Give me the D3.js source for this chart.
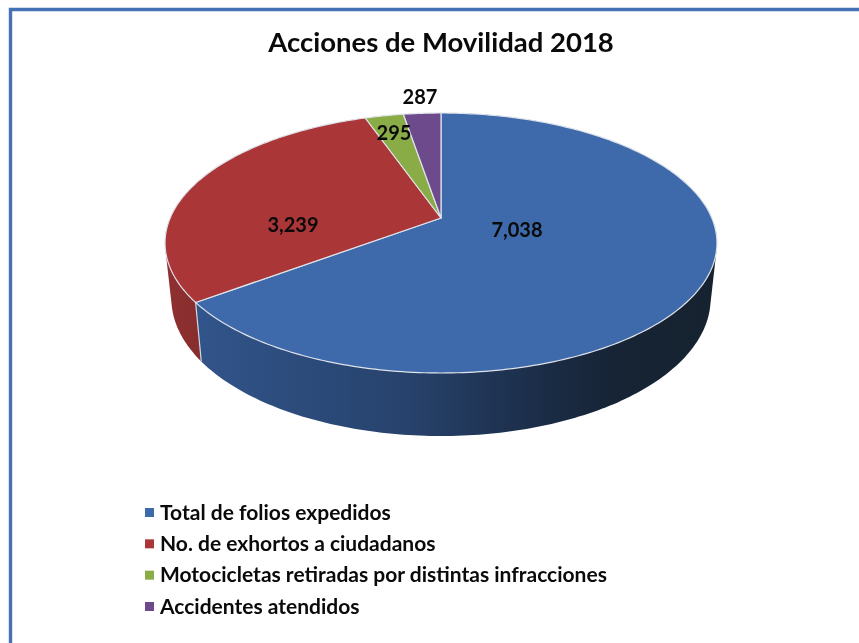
<!DOCTYPE html>
<html>
<head>
  <title>Acciones de Movilidad 2018</title>
  <script src="https://d3js.org/d3.v7.min.js"></script>
  <style>
    html, body { margin: 0; padding: 0; background: #fff; overflow: hidden; }
    svg { display: block; filter: blur(0.45px); }
    text { font-family: Lato, "Open Sans", sans-serif; font-weight: 700; fill: #0a0a0a; }
  </style>
</head>
<body>
  <svg id="chart" width="859" height="643"></svg>

  <script>
    const chartTitle = "Acciones de Movilidad 2018";
    const categories = [
      "Total de folios expedidos",
      "No. de exhortos a ciudadanos",
      "Motocicletas retiradas por distintas infracciones",
      "Accidentes atendidos"
    ];
    const values = [7038, 3239, 295, 287];
    const colors = ["#3e6aac", "#aa3637", "#89ac46", "#6c4a8c"];

    // where each value label sits on the page
    const labelX = [517, 293, 394, 420];
    const labelY = [230, 225, 133, 97];

    const svg = d3.select("#chart");

    // Frame, runs off the right and bottom of the picture
    svg.append("path")
      .attr("d", "M10.5,650V9.5H870")
      .attr("fill", "none")
      .attr("stroke", "#4472b4")
      .attr("stroke-width", 3.4);

    svg.append("text")
      .attr("x", 441)
      .attr("y", 52)
      .attr("text-anchor", "middle")
      .attr("font-size", 27.5)
      .text(chartTitle);

    // Perspective view of the pie: the circle centre is not the ellipse centre
    const centerX = 441;
    const tilt = 0.1923;
    const radiusX = 270.8;
    const radiusY = -83.27;
    const centerY = 218;
    // the bottom rim is a bit narrower, and the wall gets taller towards the viewer
    const rimScale = 0.977;
    const frontY = 373;
    const frontDepth = 63;
    const depthSlope = 0.057;

    function project(angle) {
      const u = Math.sin(angle), v = Math.cos(angle);
      const w = 1 + tilt * v;
      return [centerX + radiusX * u / w, (radiusY * v + centerY) / w];
    }
    function projectRim(angle) {
      const p = project(angle);
      return [
        centerX + rimScale * (p[0] - centerX),
        p[1] + frontDepth + depthSlope * (p[1] - frontY)
      ];
    }
    function sweep(a0, a1) {
      const n = Math.max(2, Math.ceil(Math.abs(a1 - a0) * 60));
      return d3.range(n + 1).map(i => a0 + (a1 - a0) * i / n);
    }

    const pie = d3.pie().sort(null)(values);
    const line = d3.line();

    const defs = svg.append("defs");

    const blueSide = defs.append("linearGradient")
      .attr("id", "side-0")
      .attr("gradientUnits", "userSpaceOnUse")
      .attr("x1", 200).attr("x2", 717).attr("y1", 0).attr("y2", 0);
    [[0, "#31548a"], [0.4, "#27426c"], [0.68, "#1a2b44"], [0.8, "#162435"], [1, "#16222f"]]
      .forEach(s => blueSide.append("stop").attr("offset", s[0]).attr("stop-color", s[1]));

    const redSide = defs.append("linearGradient")
      .attr("id", "side-1")
      .attr("gradientUnits", "userSpaceOnUse")
      .attr("x1", 165).attr("x2", 205).attr("y1", 0).attr("y2", 0);
    [[0, "#8f3031"], [1, "#872d2d"]]
      .forEach(s => redSide.append("stop").attr("offset", s[0]).attr("stop-color", s[1]));

    // Side walls: only the first two slices reach the front of the pie.
    // Hull of both rims gives the straight silhouette at the left and right ends.
    svg.append("g").selectAll("path")
      .data(pie.slice(0, 2).reverse())
      .join("path")
      .attr("d", d => {
        const angles = sweep(d.startAngle, d.endAngle);
        return line(d3.polygonHull(angles.map(project).concat(angles.map(projectRim)))) + "Z";
      })
      .attr("fill", d => `url(#side-${d.index})`);

    // Light edge where the blue and red walls meet
    svg.append("path")
      .attr("d", line([project(pie[0].endAngle), projectRim(pie[0].endAngle)]))
      .attr("fill", "none")
      .attr("stroke", "#d5dae2")
      .attr("stroke-width", 1.2);

    // Top faces
    svg.append("g").selectAll("path")
      .data(pie)
      .join("path")
      .attr("d", d => line([[centerX, centerY]].concat(sweep(d.startAngle, d.endAngle).map(project))) + "Z")
      .attr("fill", d => colors[d.index])
      .attr("stroke", "#dfe3ea")
      .attr("stroke-width", 1.2)
      .attr("stroke-linejoin", "round");

    // Value labels
    svg.append("g").selectAll("text")
      .data(values)
      .join("text")
      .attr("x", (d, i) => labelX[i])
      .attr("y", (d, i) => labelY[i])
      .attr("dy", "0.36em")
      .attr("text-anchor", "middle")
      .attr("font-size", 20)
      .text(d3.format(","));

    // Legend
    const legendY = d3.scalePoint()
      .domain(categories)
      .range([512, 606]);

    const legend = svg.append("g").selectAll("g")
      .data(categories)
      .join("g")
      .attr("transform", d => `translate(145,${legendY(d)})`);

    legend.append("rect")
      .attr("y", -4)
      .attr("width", 9)
      .attr("height", 9)
      .attr("fill", (d, i) => colors[i]);

    legend.append("text")
      .attr("x", 15)
      .attr("dy", "0.36em")
      .attr("font-size", 21)
      .text(d => d);
  </script>
</body>
</html>
